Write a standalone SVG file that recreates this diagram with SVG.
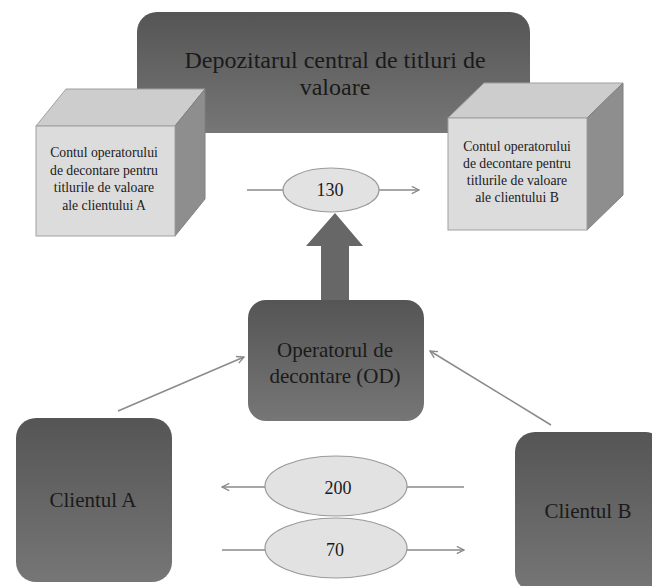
<svg xmlns="http://www.w3.org/2000/svg" width="652" height="586" viewBox="0 0 652 586">
<style>
text{font-family:"Liberation Serif","DejaVu Serif",serif;fill:#1a1a1a;text-anchor:middle}
.big{font-size:24px}
.mid{font-size:21px}
.sm{font-size:13.7px}
.num{font-size:18px}
.dark{fill:url(#g)}
.front{fill:#dcdcdc;stroke:#a0a0a0;stroke-width:1}
.top{fill:#cdcdcd;stroke:#a0a0a0;stroke-width:1}
.side{fill:#8e8e8e;stroke:#808080;stroke-width:1}
.ell{fill:#e2e2e2;stroke:#9a9a9a;stroke-width:1.2}
.ln{stroke:#8a8a8a;stroke-width:1.5;fill:none}
</style>
<defs>
<linearGradient id="g" x1="0" y1="0" x2="0" y2="1">
<stop offset="0" stop-color="#555"/>
<stop offset="1" stop-color="#767676"/>
</linearGradient>
<marker id="ah" viewBox="0 0 10 10" refX="9" refY="5" markerWidth="9" markerHeight="9" markerUnits="userSpaceOnUse" orient="auto">
<path d="M1 1L9 5L1 9" fill="none" stroke="#8a8a8a" stroke-width="1.5"/>
</marker>
</defs>
<g id="depozitar">
<rect class="dark" x="137" y="12" width="393" height="121" rx="20"/>
<text class="big" x="335" y="68">Depozitarul central de titluri de</text>
<text class="big" x="335" y="95">valoare</text>
</g>
<g id="contA">
<polygon class="top" points="36,126 66,89 205,89 175,126"/>
<polygon class="side" points="175,126 205,89 205,199 175,236"/>
<rect class="front" x="36" y="126" width="139" height="110"/>
<text class="sm" x="104" y="157">Contul operatorului</text>
<text class="sm" x="104" y="175">de decontare pentru</text>
<text class="sm" x="104" y="192">titlurile de valoare</text>
<text class="sm" x="104" y="210">ale clientului A</text>
</g>
<g id="contB">
<polygon class="top" points="448,118 484,83 623,83 587,118"/>
<polygon class="side" points="587,118 623,83 623,195 587,230"/>
<rect class="front" x="448" y="118" width="139" height="112"/>
<text class="sm" x="517" y="151">Contul operatorului</text>
<text class="sm" x="517" y="168">de decontare pentru</text>
<text class="sm" x="517" y="185">titlurile de valoare</text>
<text class="sm" x="517" y="202">ale clientului B</text>
</g>
<g id="od">
<rect class="dark" x="248" y="300" width="176" height="121" rx="18"/>
<text class="mid" x="335" y="357">Operatorul de</text>
<text class="mid" x="335" y="383">decontare (OD)</text>
</g>
<g id="clientA">
<rect class="dark" x="16" y="418" width="156" height="164" rx="20"/>
<text class="mid" x="93" y="507">Clientul A</text>
</g>
<g id="clientB">
<rect class="dark" x="515" y="432" width="150" height="160" rx="20"/>
<text class="mid" x="588" y="518">Clientul B</text>
</g>
<g id="connectors">
<polygon points="321,300 321,246 306,246 335,213 363,246 349,246 349,300" fill="#676767"/>
<line class="ln" x1="247" y1="190" x2="283" y2="190"/>
<line class="ln" x1="379" y1="190" x2="419" y2="190" marker-end="url(#ah)"/>
<line class="ln" x1="118" y1="411" x2="244" y2="357" marker-end="url(#ah)"/>
<line class="ln" x1="551" y1="425" x2="430" y2="351" marker-end="url(#ah)"/>
<line class="ln" x1="266" y1="487" x2="222" y2="487" marker-end="url(#ah)"/>
<line class="ln" x1="405" y1="487" x2="464" y2="487"/>
<line class="ln" x1="222" y1="550" x2="266" y2="550"/>
<line class="ln" x1="405" y1="550" x2="464" y2="550" marker-end="url(#ah)"/>
</g>
<g id="lbl130">
<ellipse class="ell" cx="331" cy="190" rx="48" ry="22"/>
<text class="num" x="330" y="196">130</text>
</g>
<g id="lbl200">
<ellipse class="ell" cx="336" cy="486" rx="71" ry="30"/>
<text class="num" x="338" y="494">200</text>
</g>
<g id="lbl70">
<ellipse class="ell" cx="336" cy="548" rx="71" ry="30"/>
<text class="num" x="335" y="556">70</text>
</g>
</svg>
